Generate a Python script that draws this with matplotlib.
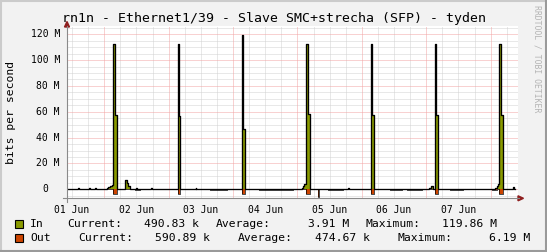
import numpy as np
import matplotlib
matplotlib.use('Agg')
import matplotlib.pyplot as plt
from matplotlib.transforms import blended_transform_factory
from matplotlib.patches import Polygon, Rectangle
from matplotlib.lines import Line2D

# ---------------- data (hours since 01 Jun 00:00, values in Mbit/s) ----------------
in_hours = [10.1, 14.2, 14.5, 18.3, 18.6, 20.7, 21.0,
            24.9, 25.5, 26.1, 26.7, 27.35, 28.05, 28.6,
            31.6, 32.5, 33.0, 33.4, 36.0, 36.3, 41.5, 41.8,
            51.35, 51.85, 52.4, 58.0, 58.3,
            75.2, 75.7, 76.6,
            97.6, 98.1, 98.6, 99.35, 99.85, 100.7, 115.0, 115.3,
            123.4, 123.9, 124.6,
            145.1, 145.7, 146.4, 147.25, 147.75, 148.4,
            169.6, 170.2, 170.6, 171.2, 171.7, 172.5, 176.3, 176.6, 177.1]
in_mbps = [0.4, 1.2, 0.4, 1.0, 0.4, 1.1, 0.4,
           0.9, 1.8, 2.6, 3.3, 112.2, 57.5, 0.4,
           7.2, 5.0, 2.8, 0.4, 1.0, 0.4, 0.9, 0.4,
           112.5, 57.0, 0.4, 0.9, 0.4,
           119.5, 46.5, 0.4,
           1.3, 2.6, 4.0, 112.3, 58.0, 0.4, 0.9, 0.4,
           112.4, 57.2, 0.4,
           1.2, 2.5, 0.4, 112.5, 57.5, 0.4,
           1.3, 2.6, 4.1, 112.5, 57.5, 0.4, 1.5, 0.4, 0.4]

out_hours = [10.1, 27.35, 28.6, 35.4, 37.3, 51.35, 52.4, 63.4, 69.7,
             75.2, 76.6, 81.5, 94.3, 99.35, 100.7, 103.5, 103.85,
             107.4, 113.0, 123.4, 124.6, 130.4, 134.9, 136.8, 142.4,
             147.25, 148.4, 152.8, 157.7, 168.5, 170.4, 171.2, 172.5, 177.1]
out_mbps = [0.15, 4.0, 0.15, 0.8, 0.15, 4.0, 0.15, 0.8, 0.15,
            4.0, 0.15, 0.8, 0.15, 4.0, 0.15, 6.2, 0.15,
            0.8, 0.15, 4.0, 0.15, 0.8, 0.15, 0.8, 0.15,
            4.0, 0.15, 0.8, 0.15, 0.8, 0.15, 4.0, 0.15, 0.15]

day_labels = ['01 Jun', '02 Jun', '03 Jun', '04 Jun', '05 Jun', '06 Jun', '07 Jun']
y_ticks = [0, 20, 40, 60, 80, 100, 120]
y_labels = ['0', '20 M', '40 M', '60 M', '80 M', '100 M', '120 M']

title = 'rn1n - Ethernet1/39 - Slave SMC+strecha (SFP) - tyden'
in_stats = ['In', 'Current:', '490.83 k', 'Average:', '3.91 M', 'Maximum:', '119.86 M']
out_stats = ['Out', 'Current:', '590.89 k', 'Average:', '474.67 k', 'Maximum:', '6.19 M']

# ---------------- style ----------------
W, H = 547, 252
BG = '#f2f2f2'
IN_COL = '#8a9a00'
OUT_COL = '#cc4400'
GRID_MIN = '#d2d2d2'
GRID_MAJ = '#f3a4a4'
ARROW = '#8f1f1f'
AXIS = '#8a8a8a'
MONO = 'DejaVu Sans Mono'


def fx(px):
    return px / W


def fy(py):
    return 1 - py / H


fig = plt.figure(figsize=(W / 100, H / 100), dpi=100, facecolor=BG)
ax = fig.add_axes([fx(67), fy(198.3), fx(518) - fx(67), fy(26) - fy(198.3)])
ax.set_facecolor('white')
ax.set_xlim(10.1, 178.2)
ax.set_ylim(-6.97, 126.4)
for s in ax.spines.values():
    s.set_visible(False)

# grid
dots = (0, (1, 1))
for h in np.arange(12, 180, 6):
    if h % 24:
        ax.axvline(h, color=GRID_MIN, lw=0.72, ls=dots, zorder=0.5)
for h in np.arange(24, 180, 24):
    ax.axvline(h, color=GRID_MAJ, lw=0.72, ls=dots, zorder=0.6)
for v in range(-5, 126, 5):
    if v % 20:
        ax.axhline(v, color=GRID_MIN, lw=0.72, ls=dots, zorder=0.5)
    else:
        ax.axhline(v, color=GRID_MAJ, lw=0.72, ls=dots, zorder=0.6)

# data
ti = np.array(in_hours)
vi = np.array(in_mbps)
to = np.array(out_hours)
vo = -np.array(out_mbps)
ax.fill_between(ti, 0, vi, step='post', color=IN_COL, lw=0, zorder=2)
ax.fill_between(to, 0, vo, step='post', color=OUT_COL, lw=0, zorder=2)
ax.step(to, vo, where='post', color='black', lw=0.5, zorder=3)
ax.step(ti, vi, where='post', color='black', lw=0.95, zorder=3)

# x labels at noon of each day
ax.set_xticks([12 + 24 * i for i in range(len(day_labels))])
ax.set_xticklabels(day_labels, fontfamily=MONO, fontsize=7)
ax.tick_params(axis='x', length=0, pad=4.5)
ax.set_yticks([])

# y labels (monospace, units column aligned)
cw = 0.602 * 7 * 100 / 72
tr = blended_transform_factory(fig.transFigure, ax.transData)
for v, lab in zip(y_ticks, y_labels):
    xr = 60 if lab.endswith('M') else 60 - 2 * cw
    ax.text(fx(xr), v, lab, transform=tr, ha='right', va='center',
            fontfamily=MONO, fontsize=7, clip_on=False)

# axes lines and arrows
fig.add_artist(Line2D([fx(63), fx(519)], [fy(198.3), fy(198.3)], color=AXIS, lw=0.8))
fig.add_artist(Line2D([fx(67), fx(67)], [fy(202), fy(26)], color=AXIS, lw=0.8))
fig.add_artist(Polygon([[fx(518), fy(195.8)], [fx(523.5), fy(198.3)], [fx(518), fy(200.8)]],
                       closed=True, color=ARROW, transform=fig.transFigure))
fig.add_artist(Polygon([[fx(64.5), fy(27)], [fx(67), fy(21.5)], [fx(69.5), fy(27)]],
                       closed=True, color=ARROW, transform=fig.transFigure))

# texts
fig.text(fx(274), fy(18.5), title, ha='center', va='center', fontfamily=MONO, fontsize=9.5)
fig.text(fx(11), fy(112), 'bits per second', rotation=90, ha='center', va='center',
         fontfamily=MONO, fontsize=8.2)
fig.text(fx(537), fy(59), 'RRDTOOL / TOBI OETIKER', rotation=270, ha='center', va='center',
         fontfamily=MONO, fontsize=5.9, color='#b4b4b4')

# legend
fig.add_artist(Rectangle((fx(15), fy(228)), fx(8), 8 / H, facecolor=IN_COL,
                         edgecolor='black', lw=0.8, transform=fig.transFigure))
fig.add_artist(Rectangle((fx(15), fy(242)), fx(8), 8 / H, facecolor=OUT_COL,
                         edgecolor='black', lw=0.8, transform=fig.transFigure))
in_pos = [(30, 'left'), (67, 'left'), (199, 'right'), (216, 'left'), (349, 'right'),
          (365, 'left'), (497, 'right')]
out_pos = [(30, 'left'), (78.5, 'left'), (210, 'right'), (238, 'left'), (370, 'right'),
           (398, 'left'), (530, 'right')]
for row_y, items, pos in [(224, in_stats, in_pos), (238, out_stats, out_pos)]:
    for txt, (px, ha) in zip(items, pos):
        fig.text(fx(px), fy(row_y), txt, ha=ha, va='center', fontfamily=MONO, fontsize=8.2)

# frame (3D shade)
fig.add_artist(Line2D([0, 1], [fy(0.5), fy(0.5)], color='#cbcbcb', lw=1.5))
fig.add_artist(Line2D([fx(0.5), fx(0.5)], [0, 1], color='#cbcbcb', lw=1.5))
fig.add_artist(Line2D([0, 1], [fy(251.3), fy(251.3)], color='#9a9a9a', lw=1.5))
fig.add_artist(Line2D([fx(546.3), fx(546.3)], [0, 1], color='#9a9a9a', lw=1.5))

fig.savefig('out.png', dpi=100, facecolor=BG)
